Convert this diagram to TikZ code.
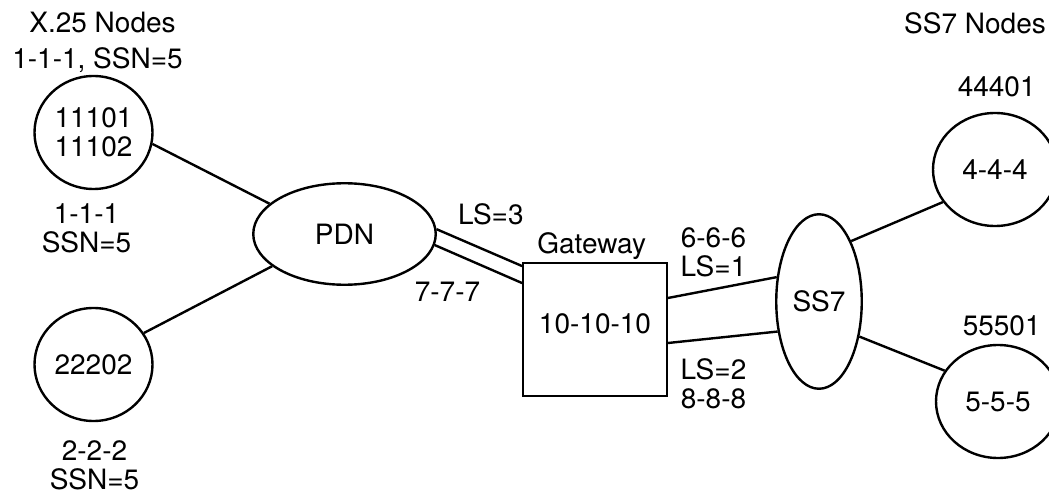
\documentclass[tikz,border=0pt]{standalone}
\usepackage{fontspec}
\setmainfont{TeX Gyre Heros}
\usetikzlibrary{shapes.geometric}
\tikzset{
  netnode/.style={draw,ellipse,line width=2.4pt,minimum width=118pt,minimum height=113pt,inner sep=0pt,align=center},
  lbl/.style={inner sep=0pt,align=center}
}
\begin{document}
\begin{tikzpicture}[x=1pt,y=-1pt,line width=2.4pt,font=\fontsize{28}{29}\selectfont]
            \useasboundingbox (0,0) rectangle (1049,494);
            % X.25 side
            \node[netnode] (xa) at (93.5,132.5) {11101\\11102};
            \node[netnode] (xb) at (93.5,364.5) {22202};
            \node[lbl,anchor=base] (xtitle) at (102.5,33) {X.25 Nodes};
            \node[lbl,anchor=base] (xaddr) at (97.5,69) {1-1-1, SSN=5};
            \node[lbl] (xapc) at (86.5,228.3) {1-1-1\\SSN=5};
            \node[lbl] (xbpc) at (94.5,465.7) {2-2-2\\SSN=5};
            % PDN and gateway
            \node[draw,ellipse,minimum width=182.5pt,minimum height=101.5pt] (pdn) at (344.5,234) {PDN};
            \node[draw,rectangle,minimum width=143.5pt,minimum height=132.5pt,text depth=12pt] (gw) at (595,329.5) {10-10-10};
            \node[lbl,anchor=base] (gwname) at (591.7,253.3) {Gateway};
            \node[lbl,anchor=base] (ls3) at (490.8,225) {LS=3};
            \node[lbl,anchor=base] (pc7) at (447.5,301.7) {7-7-7};
            % SS7 side
            \node[draw,ellipse,minimum width=85.5pt,minimum height=174.5pt,inner sep=0pt] (ss7) at (819,301.5) {SS7};
            \node[netnode,minimum width=124pt] (sa) at (995,169.5) {4-4-4};
            \node[netnode,minimum width=124pt] (sb) at (998,401.5) {5-5-5};
            \node[lbl,anchor=base] (stitle) at (975,33.3) {SS7 Nodes};
            \node[lbl,anchor=base] (saddr) at (996.7,96.7) {44401};
            \node[lbl,anchor=base] (sbaddr) at (1001.7,335) {55501};
            \node[lbl] (ls1) at (713.5,252.5) {6-6-6\\LS=1};
            \node[lbl] (ls2) at (713.5,383.8) {LS=2\\8-8-8};
            % links
            \draw (xa.-11) -- (pdn.158);
            \draw (xb.32) -- (pdn.204);
            \draw (pdn.3) -- ([yshift=-4pt]gw.north west);
            \draw (pdn.-7) -- ([yshift=-21pt]gw.north west);
            \draw ([yshift=31.5pt]gw.east) -- (ss7.150);
            \draw ([yshift=-13.5pt]gw.east) -- (ss7.216);
            \draw (ss7.62) -- (sa.212);
            \draw (ss7.-41) -- (sb.150);
        \end{tikzpicture}
\end{document}
